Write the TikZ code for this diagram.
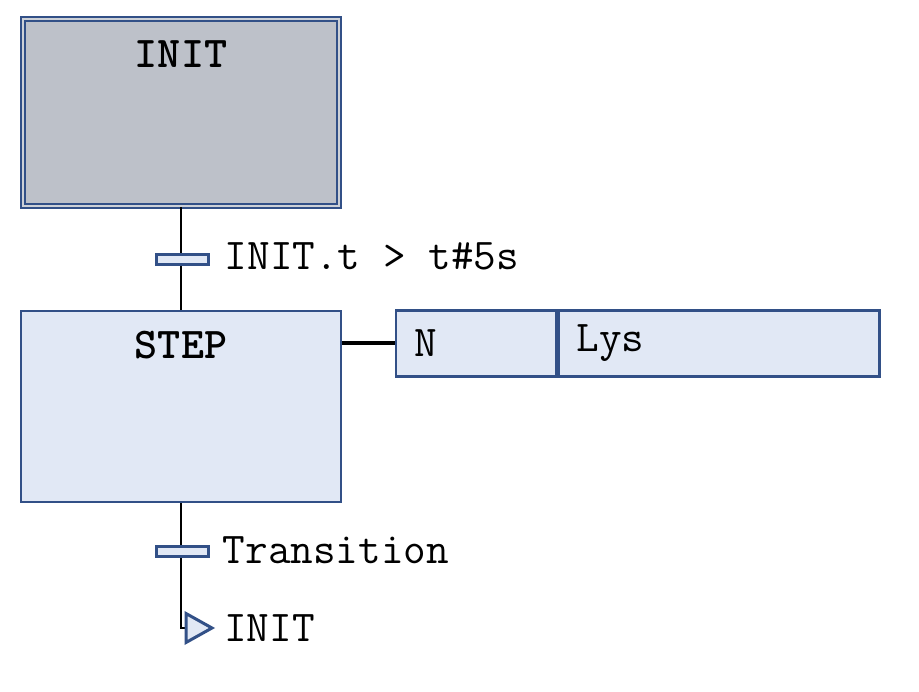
\documentclass[tikz,border=0pt]{standalone}
\usepackage{fontspec}
\usetikzlibrary{positioning}

\definecolor{sfcblue}{RGB}{50,80,135}
\definecolor{sfcgray}{RGB}{189,193,201}
\definecolor{sfclight}{RGB}{225,232,245}

\begin{document}
\begin{tikzpicture}[
  font=\ttfamily\fontsize{25}{30}\selectfont,
  stepbox/.style={draw=sfcblue,line width=0.05cm,fill=sfclight,rectangle,inner sep=0pt},
  transbar/.style={draw=sfcblue,line width=0.06cm,fill=sfclight,rectangle,inner sep=0pt,minimum width=1.04cm,minimum height=0.2cm},
  actbox/.style={draw=sfcblue,line width=0.05cm,fill=sfclight,rectangle,inner xsep=0.36cm,inner ysep=0pt,minimum height=1.32cm},
  wire/.style={black,line width=0.055cm},
  node distance=0cm]
\useasboundingbox (0,0) rectangle (18.38,13.82);

% steps
\node[stepbox,fill=sfcgray,line width=0.045cm,double=sfcgray!75!white,double distance=0.045cm,minimum width=6.32cm,minimum height=3.74cm] (init) at (3.62,11.57) {};
\node[font=\ttfamily\fontsize{25}{30}\selectfont\bfseries] (initname) at ([yshift=-0.72cm]init.north) {INIT};
\node[stepbox,minimum width=6.4cm,minimum height=3.82cm] (step) at (3.62,5.69) {};
\node[font=\ttfamily\fontsize{25}{30}\selectfont\bfseries] (stepname) at ([yshift=-0.7cm]step.north) {STEP};

% action block
\node[actbox,text width=2.48cm,align=left] (qual) at (9.52,6.95) {N};
\node[actbox,text width=5.7cm,align=left,right=of qual] (act) {Lys};
\draw[wire,line width=0.08cm] (step.east |- qual.west) -- (qual.west);

% jump target
\coordinate (jmp) at (3.72,1.26);

% wires
\draw[wire] (init.south) -- (step.north);
\draw[wire] (step.south) |- (jmp);

% transitions
\node[transbar] (t1) at (3.64,8.62) {};
\node[transbar] (t2) at (3.64,2.78) {};
\node[anchor=west,inner sep=0pt] (c1) at ([xshift=0.3cm,yshift=0.07cm]t1.east) {INIT.t > t\#5s};
\node[anchor=west,inner sep=0pt] (c2) at ([xshift=0.26cm,yshift=0.03cm]t2.east) {Transition};

% jump
\draw[draw=sfcblue,line width=0.06cm,fill=sfclight,line join=miter] (jmp) ++(0,0.29) -- ++(0.52,-0.29) -- ++(-0.52,-0.29) -- cycle;
\node[anchor=west,inner sep=0pt] (jmpname) at ([xshift=0.76cm]jmp) {INIT};
\end{tikzpicture}
\end{document}
